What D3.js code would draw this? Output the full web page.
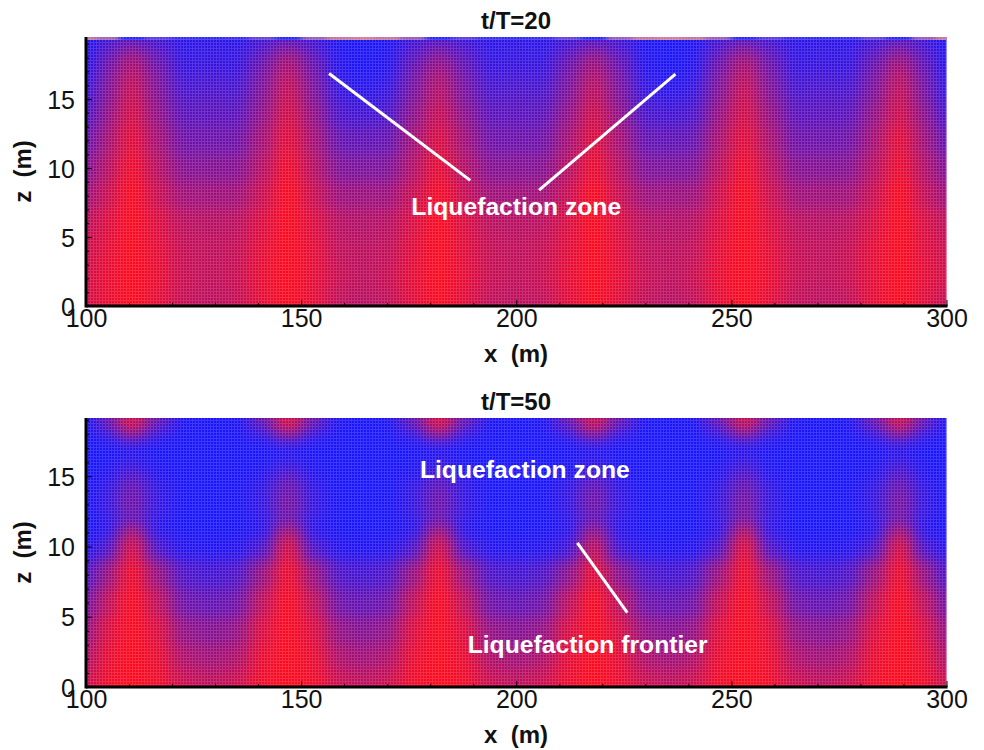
<!DOCTYPE html>
<html>
<head>
<meta charset="utf-8">
<script src="https://cdn.jsdelivr.net/npm/d3@7"></script>
<style>
  html, body { margin: 0; background: #fff; }
  svg { display: block; }
  text { font-family: "Liberation Sans", Arial, sans-serif; white-space: pre; }
</style>
</head>
<body>
<svg width="984" height="750"></svg>
<script>
// Column positions of the field, m (bands sit at index 2, 8, 14, 20, 26, 32)
const xColumns = [100, 104.7, 110.7, 116.7, 122.7, 129, 135, 141, 147, 153, 159, 164.5, 170, 176, 182, 188, 194, 200, 206, 212, 218, 224, 230, 235.5, 241, 247, 253, 259, 265, 271, 277, 283, 289, 295, 300];

const xMajorTicks = [100, 150, 200, 250, 300];
const xMinorTicks = [110, 120, 130, 140, 160, 170, 180, 190, 210, 220, 230, 240, 260, 270, 280, 290];
const zMajorTicks = [0, 5, 10, 15];
const zMinorTicks = [1, 2, 3, 4, 6, 7, 8, 9, 11, 12, 13, 14, 16, 17, 18, 19];

// t/T=20: depth of each row and the colour level (0 blue, 1 red) read per column
const zRows20 = [19.2, 18, 17, 16, 15, 14, 12, 10, 8, 6, 4, 2, 0.5];
const field20 = [
  [.04,.2,.32,.2,.1,.12,.1,.2,.32,.18,.04,.03,.04,.18,.28,.18,.1,.12,.1,.18,.28,.18,.04,.03,.04,.2,.32,.2,.1,.12,.1,.18,.3,.18,.04],
  [.06,.33,.6,.33,.12,.13,.12,.33,.6,.31,.06,.03,.06,.29,.5,.29,.12,.13,.12,.31,.55,.31,.06,.03,.06,.33,.6,.33,.12,.13,.12,.31,.55,.29,.06],
  [.08,.41,.7,.41,.16,.18,.16,.41,.7,.39,.08,.04,.08,.37,.62,.37,.16,.18,.16,.39,.66,.39,.08,.04,.08,.41,.7,.41,.16,.18,.16,.39,.68,.37,.07],
  [.12,.45,.76,.45,.2,.22,.2,.45,.76,.43,.12,.07,.12,.41,.68,.41,.2,.22,.2,.43,.72,.43,.12,.07,.12,.45,.76,.45,.2,.22,.2,.43,.74,.41,.1],
  [.16,.48,.8,.48,.25,.27,.25,.48,.8,.47,.17,.12,.17,.45,.72,.45,.25,.27,.25,.47,.76,.47,.17,.12,.17,.49,.8,.49,.25,.27,.25,.47,.78,.45,.14],
  [.22,.54,.84,.54,.3,.3,.3,.54,.84,.54,.23,.2,.23,.52,.78,.52,.3,.3,.3,.54,.82,.54,.23,.2,.23,.56,.84,.56,.3,.3,.3,.54,.82,.52,.2],
  [.33,.62,.9,.62,.38,.38,.38,.62,.9,.62,.34,.32,.34,.6,.86,.6,.38,.38,.38,.62,.88,.62,.34,.32,.34,.64,.9,.64,.38,.38,.38,.62,.9,.6,.32],
  [.45,.7,.96,.7,.48,.48,.48,.7,.96,.7,.45,.44,.45,.68,.92,.68,.48,.48,.48,.7,.94,.7,.45,.44,.45,.72,.96,.72,.48,.48,.48,.7,.94,.68,.44],
  [.58,.78,1,.78,.6,.6,.6,.78,1,.78,.58,.58,.58,.77,.98,.77,.6,.6,.6,.78,1,.78,.58,.58,.58,.8,1,.8,.6,.6,.6,.78,1,.76,.58],
  [.72,.86,1,.86,.72,.7,.72,.86,1,.86,.7,.68,.7,.85,1,.85,.72,.7,.72,.85,1,.85,.7,.68,.7,.86,1,.86,.72,.7,.72,.85,1,.85,.72],
  [.78,.9,1,.9,.76,.74,.76,.9,1,.9,.74,.72,.74,.88,1,.88,.76,.74,.76,.88,1,.88,.74,.72,.74,.9,1,.9,.76,.74,.76,.9,1,.88,.78],
  [.8,.92,1,.92,.77,.74,.77,.92,1,.9,.77,.72,.77,.9,1,.9,.77,.74,.77,.9,1,.9,.77,.72,.77,.92,1,.92,.77,.74,.77,.9,1,.9,.8],
  [.82,.92,1,.9,.76,.72,.76,.9,1,.9,.74,.7,.74,.88,1,.88,.74,.72,.74,.88,1,.88,.74,.7,.74,.9,1,.9,.74,.72,.74,.9,1,.88,.76]
];
// thin pink and blue strip along the free surface at t/T=20
const surface20 = [.65,.5,.03,.2,.08,.05,.08,.25,.03,.45,.65,.7,.65,.45,.03,.2,.08,.05,.08,.25,.03,.45,.65,.7,.65,.45,.03,.2,.08,.05,.08,.25,.03,.45,.65];

// t/T=50
const zRows50 = [18.7, 18, 17, 16, 15, 14, 13, 12, 11, 10, 8, 6, 4, 2, 0.5];
const field50 = [
  [.03,.34,.85,.34,.04,.02,.04,.34,.88,.34,.04,.02,.04,.34,.88,.34,.04,.02,.04,.34,.82,.34,.04,.02,.04,.34,.82,.34,.04,.02,.04,.34,.82,.34,.03],
  [.02,.12,.5,.12,.02,.02,.02,.12,.5,.12,.02,.02,.02,.12,.5,.12,.02,.02,.02,.12,.46,.12,.02,.02,.02,.12,.45,.12,.02,.02,.02,.12,.45,.12,.02],
  [.02,.02,.06,.02,.02,.02,.02,.02,.05,.02,.02,.02,.02,.02,.05,.02,.02,.02,.02,.02,.05,.02,.02,.02,.02,.02,.06,.02,.02,.02,.02,.02,.07,.02,.02],
  [.02,.03,.12,.03,.02,.02,.02,.03,.12,.03,.02,.02,.02,.03,.12,.03,.02,.02,.02,.03,.12,.03,.02,.02,.02,.03,.16,.03,.02,.02,.02,.03,.16,.03,.02],
  [.02,.07,.28,.07,.02,.02,.02,.07,.3,.07,.02,.02,.02,.07,.25,.07,.02,.02,.02,.07,.25,.07,.02,.02,.02,.07,.3,.07,.02,.02,.02,.07,.3,.07,.02],
  [.02,.12,.38,.12,.02,.02,.02,.12,.4,.12,.02,.02,.02,.12,.36,.12,.02,.02,.02,.12,.38,.12,.02,.02,.02,.12,.4,.12,.02,.02,.02,.12,.4,.12,.02],
  [.02,.14,.42,.14,.02,.02,.02,.14,.45,.14,.02,.02,.02,.14,.4,.14,.02,.02,.02,.14,.42,.14,.02,.02,.02,.14,.45,.14,.02,.02,.02,.14,.45,.14,.02],
  [.02,.1,.34,.1,.02,.02,.02,.1,.38,.1,.02,.02,.02,.1,.36,.1,.02,.02,.02,.1,.34,.1,.02,.02,.02,.12,.44,.12,.02,.02,.02,.1,.4,.1,.02],
  [.03,.08,.66,.08,.03,.02,.03,.08,.68,.08,.03,.02,.03,.08,.66,.08,.03,.02,.03,.08,.58,.08,.03,.02,.03,.1,.74,.1,.03,.02,.03,.08,.68,.08,.03],
  [.07,.24,.86,.24,.07,.06,.07,.24,.88,.24,.07,.06,.07,.24,.86,.24,.07,.06,.07,.18,.78,.18,.07,.06,.07,.26,.92,.26,.07,.06,.07,.24,.88,.24,.07],
  [.22,.56,.96,.56,.24,.2,.24,.56,.96,.56,.24,.2,.24,.56,.96,.56,.24,.2,.24,.5,.92,.5,.24,.2,.24,.58,.97,.58,.24,.2,.24,.56,.96,.56,.22],
  [.38,.74,1,.74,.38,.33,.38,.74,1,.74,.38,.33,.38,.74,1,.74,.38,.33,.38,.72,1,.72,.38,.33,.38,.76,1,.76,.38,.33,.38,.74,1,.74,.38],
  [.52,.86,1,.86,.54,.48,.54,.86,1,.86,.54,.48,.54,.86,1,.86,.54,.48,.54,.84,1,.84,.54,.48,.54,.88,1,.88,.54,.48,.54,.86,1,.86,.52],
  [.64,.92,1,.92,.66,.6,.66,.92,1,.92,.66,.6,.66,.92,1,.92,.66,.6,.66,.9,1,.9,.66,.6,.66,.93,1,.93,.66,.6,.66,.92,1,.92,.64],
  [.76,.95,1,.95,.78,.72,.78,.95,1,.95,.78,.72,.78,.95,1,.95,.78,.72,.78,.93,1,.93,.78,.72,.78,.95,1,.95,.78,.72,.78,.95,1,.95,.76]
];

// Annotation lines and labels, in chart units
const leaders20 = [[[156.5, 16.85], [189.3, 9.1]], [[237, 16.8], [205.3, 8.4]]];
const labels20 = [{x: 200, z: 6.63, text: "Liquefaction zone"}];
const leaders50 = [[[214.2, 10.25], [225.8, 5.3]]];
const labels50 = [{x: 202, z: 14.9, text: "Liquefaction zone"}, {x: 216.6, z: 2.4, text: "Liquefaction frontier"}];

const svg = d3.select("svg");
const defs = svg.append("defs");

// Smooths the blocks into a continuous field
defs.append("filter")
    .attr("id", "soften")
    .attr("filterUnits", "userSpaceOnUse")
    .attr("x", 0).attr("y", 0).attr("width", 984).attr("height", 750)
    .attr("color-interpolation-filters", "sRGB")
  .append("feGaussianBlur")
    .attr("stdDeviation", "8.5 6.5");

defs.append("filter")
    .attr("id", "softenStrip")
    .attr("filterUnits", "userSpaceOnUse")
    .attr("x", 0).attr("y", 0).attr("width", 984).attr("height", 750)
    .attr("color-interpolation-filters", "sRGB")
  .append("feGaussianBlur")
    .attr("stdDeviation", "3 0");

// Fine mesh texture of the original plot
const mesh = defs.append("pattern")
    .attr("id", "mesh")
    .attr("patternUnits", "userSpaceOnUse")
    .attr("width", 3).attr("height", 3);
mesh.append("rect").attr("width", 3).attr("height", 1).attr("fill", "#fff").attr("fill-opacity", 0.15);
mesh.append("rect").attr("y", 1).attr("width", 1).attr("height", 2).attr("fill", "#fff").attr("fill-opacity", 0.15);

const color = d3.scaleLinear().domain([0, 1]).range(["#1414ff", "#fc0a1e"]);
const stripColor = d3.scaleLinear().domain([0, 0.7]).range(["#2424ff", "#cf7d98"]);

// Cell edges are the midpoints between columns or rows, the outer ones run past the plot
function cellEdges(values) {
    const mids = d3.pairs(values, (a, b) => (a + b) / 2);
    const first = values[0] - (values[1] - values[0]) * 4;
    const last = values[values.length - 1] + (values[values.length - 1] - values[values.length - 2]) * 4;
    return [first, ...mids, last];
}

function drawPanel(cfg) {
    const x = d3.scaleLinear().domain([100, 300]).range([86, 946.5]);
    const z = d3.scaleLinear().domain([0, 1]).range([cfg.bottom, cfg.bottom - cfg.pxPerM]);

    const clipId = "clip" + cfg.title.slice(-2);
    defs.append("clipPath").attr("id", clipId)
      .append("rect")
        .attr("x", x(100)).attr("y", cfg.top)
        .attr("width", x(300) - x(100)).attr("height", cfg.bottom - cfg.top);

    const xEdges = cellEdges(xColumns);
    const zEdges = cellEdges(cfg.zRows);
    const plot = svg.append("g").attr("clip-path", `url(#${clipId})`);

    const cells = [];
    cfg.field.forEach((row, i) => row.forEach((v, j) => cells.push({i, j, v})));

    plot.append("g").attr("filter", "url(#soften)")
      .selectAll("rect").data(cells).join("rect")
        .attr("x", d => x(xEdges[d.j]))
        .attr("width", d => x(xEdges[d.j + 1]) - x(xEdges[d.j]) + 0.5)
        .attr("y", d => z(zEdges[d.i]))
        .attr("height", d => z(zEdges[d.i + 1]) - z(zEdges[d.i]) + 0.5)
        .attr("fill", d => color(d.v));

    if (cfg.surface) {
        plot.append("g").attr("filter", "url(#softenStrip)")
          .selectAll("rect").data(cfg.surface).join("rect")
            .attr("x", (d, j) => x(xEdges[j]))
            .attr("width", (d, j) => x(xEdges[j + 1]) - x(xEdges[j]) + 0.5)
            .attr("y", cfg.top)
            .attr("height", 3)
            .attr("fill", d => stripColor(d));
    }

    plot.append("rect")
        .attr("x", x(100)).attr("y", cfg.top)
        .attr("width", x(300) - x(100)).attr("height", cfg.bottom - cfg.top)
        .attr("fill", "url(#mesh)");

    // Annotations
    const line = d3.line().x(d => x(d[0])).y(d => z(d[1]));
    svg.append("g").selectAll("path").data(cfg.leaders).join("path")
        .attr("d", line)
        .attr("fill", "none")
        .attr("stroke", "#fff")
        .attr("stroke-width", 3);
    svg.append("g").selectAll("text").data(cfg.labels).join("text")
        .attr("x", d => x(d.x))
        .attr("y", d => z(d.z))
        .attr("text-anchor", "middle")
        .attr("font-size", 24.7)
        .attr("font-weight", "bold")
        .attr("fill", "#fff")
        .text(d => d.text);

    // Axes: minor ticks first, then majors with labels, ticks point inward
    const bottomY = cfg.bottom;
    svg.append("g").attr("transform", `translate(0,${bottomY})`)
        .call(d3.axisBottom(x).tickValues(xMinorTicks).tickSize(-3).tickFormat(""))
        .call(g => g.select(".domain").remove());
    const xAxis = svg.append("g").attr("transform", `translate(0,${bottomY})`)
        .call(d3.axisBottom(x).tickValues(xMajorTicks).tickSize(-6).tickFormat(d3.format("d")));
    xAxis.select(".domain").remove();
    xAxis.selectAll("text")
        .attr("y", 21).attr("dy", 0)
        .attr("font-size", 25).attr("font-family", null).attr("fill", "#111");

    svg.append("g").attr("transform", `translate(${x(100)},0)`)
        .call(d3.axisLeft(z).tickValues(zMinorTicks).tickSize(-3).tickFormat(""))
        .call(g => g.select(".domain").remove());
    const zAxis = svg.append("g").attr("transform", `translate(${x(100)},0)`)
        .call(d3.axisLeft(z).tickValues(zMajorTicks).tickSize(-6).tickFormat(d3.format("d")));
    zAxis.select(".domain").remove();
    zAxis.selectAll("text")
        .attr("x", -11).attr("dy", "0.36em")
        .attr("font-size", 25).attr("font-family", null).attr("fill", "#111");
    svg.selectAll(".tick line").attr("stroke", "#000").attr("stroke-width", 1);

    // Heavy left and bottom axis lines
    svg.append("line")
        .attr("x1", x(100)).attr("x2", x(100))
        .attr("y1", cfg.top).attr("y2", cfg.bottom + 1.5)
        .attr("stroke", "#000").attr("stroke-width", 3);
    svg.append("line")
        .attr("x1", x(100)).attr("x2", x(300) + 1)
        .attr("y1", cfg.bottom).attr("y2", cfg.bottom)
        .attr("stroke", "#000").attr("stroke-width", 3);

    // Titles
    svg.append("text")
        .attr("x", 516).attr("y", cfg.top - 8)
        .attr("text-anchor", "middle")
        .attr("font-size", 24).attr("font-weight", "bold")
        .attr("fill", "#111")
        .text(cfg.title);
    svg.append("text")
        .attr("x", 516).attr("y", cfg.bottom + 56)
        .attr("text-anchor", "middle")
        .attr("font-size", 24).attr("font-weight", "bold")
        .attr("fill", "#111")
        .text("x  (m)");
    svg.append("text")
        .attr("transform", `translate(31,${(cfg.top + cfg.bottom) / 2}) rotate(-90)`)
        .attr("text-anchor", "middle")
        .attr("font-size", 24).attr("font-weight", "bold")
        .attr("fill", "#111")
        .text("z  (m)");
}

drawPanel({title: "t/T=20", top: 37, bottom: 306, pxPerM: 13.8, zRows: zRows20, field: field20, surface: surface20, leaders: leaders20, labels: labels20});
drawPanel({title: "t/T=50", top: 418, bottom: 687, pxPerM: 14.05, zRows: zRows50, field: field50, surface: null, leaders: leaders50, labels: labels50});
</script>
</body>
</html>
